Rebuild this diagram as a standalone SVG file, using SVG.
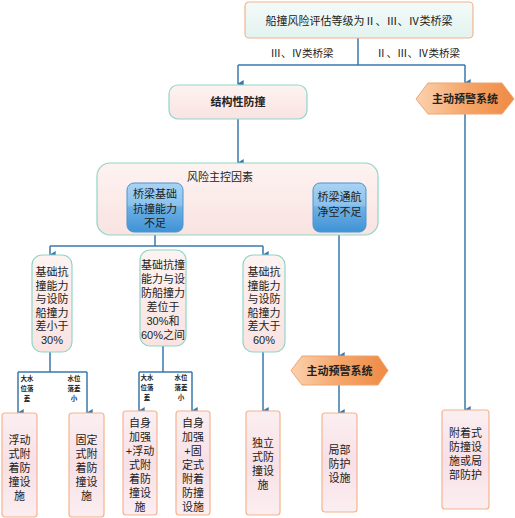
<svg xmlns="http://www.w3.org/2000/svg" width="515" height="518" viewBox="0 0 515 518">
<defs>
<linearGradient id="gPink" x1="0" y1="0" x2="0" y2="1"><stop offset="0" stop-color="#fdf3f1"/><stop offset="1" stop-color="#f9e3e1"/></linearGradient>
<linearGradient id="gBot" x1="0" y1="0" x2="0" y2="1"><stop offset="0" stop-color="#fbeff2"/><stop offset="0.5" stop-color="#f7e0e6"/><stop offset="1" stop-color="#fbeef1"/></linearGradient>
<linearGradient id="gTop" x1="0" y1="0" x2="0" y2="1"><stop offset="0" stop-color="#f3fbf9"/><stop offset="1" stop-color="#e3f3ef"/></linearGradient>
<linearGradient id="gBlue" x1="0" y1="0" x2="0" y2="1"><stop offset="0" stop-color="#a9d3f2"/><stop offset="0.45" stop-color="#8cc2ec"/><stop offset="0.5" stop-color="#6eb0e4"/><stop offset="1" stop-color="#3f93d6"/></linearGradient>
<linearGradient id="gOr" x1="0" y1="0" x2="1" y2="0"><stop offset="0" stop-color="#fbd2b0"/><stop offset="0.5" stop-color="#f5a66a"/><stop offset="1" stop-color="#ef8a45"/></linearGradient>
<marker id="arr" markerUnits="userSpaceOnUse" markerWidth="8" markerHeight="8" refX="3.5" refY="6" orient="auto-start-reverse" viewBox="0 0 7 7">
<path d="M0 1 L7 1 L3.5 7 Z" fill="#3a78ad"/>
</marker>
</defs>
<style>
.t{font-family:"Liberation Sans","Noto Sans CJK SC",sans-serif;fill:#222;text-anchor:middle;}
.f11{font-size:11px;}
.f10{font-size:10.5px;}
.b{font-weight:bold;}
.s{font-size:6.5px;font-weight:bold;fill:#222;font-family:"Liberation Sans","Noto Sans CJK SC",sans-serif;text-anchor:middle;}
.ln{fill:none;stroke:#3a78ad;stroke-width:1.5;}
.a{marker-end:url(#arr);}
.pk{fill:url(#gPink);stroke:#8fd6c8;stroke-width:1.2;}
.bt{fill:url(#gBot);stroke:#f4b48e;stroke-width:1.2;}
.bl{fill:url(#gBlue);stroke:#4a94d0;stroke-width:1;}
.hx{fill:url(#gOr);stroke:#f0a470;stroke-width:1;}
</style>

<g id="connectors">
<path class="ln" d="M358 38 V65 M238 65 H465"/>
<path class="ln a" d="M238 65 V84"/>
<path class="ln a" d="M465 65 V83"/>
<path class="ln a" d="M238 119 V163"/>
<path class="ln" d="M155 232 V246 M50 246 H263"/>
<path class="ln a" d="M50 246 V255"/>
<path class="ln a" d="M263 246 V255"/>
<path class="ln a" d="M339 232 V356"/>
<path class="ln a" d="M339 385 V413"/>
<path class="ln a" d="M465 114 V410"/>
<path class="ln" d="M50 352 V372 M18 372 H87"/>
<path class="ln a" d="M18 372 V413"/>
<path class="ln a" d="M87 372 V413"/>
<path class="ln" d="M163 346 V372 M139 372 H192"/>
<path class="ln a" d="M139 372 V411"/>
<path class="ln a" d="M192 372 V411"/>
<path class="ln a" d="M263 352 V411"/>
<text class="t f10" x="302" y="57">Ⅲ、Ⅳ类桥梁</text>
<text class="t f10" x="418" y="57">Ⅱ、Ⅲ、Ⅳ类桥梁</text>
<text class="s" x="27" y="381">大水<tspan x="27" dy="10">位落</tspan><tspan x="27" dy="10">差</tspan></text>
<text class="s" x="74" y="381">水位<tspan x="74" dy="10">落差</tspan><tspan x="74" dy="10">小</tspan></text>
<text class="s" x="147" y="380">大水<tspan x="147" dy="10">位落</tspan><tspan x="147" dy="10">差</tspan></text>
<text class="s" x="181" y="380">水位<tspan x="181" dy="10">落差</tspan><tspan x="181" dy="10">小</tspan></text>
</g>

<g id="top">
<rect x="245" y="2" width="228" height="36" rx="4" fill="url(#gTop)" stroke="#f4b48e" stroke-width="1.2"/>
<text class="t f11" x="359" y="25">船撞风险评估等级为Ⅱ、Ⅲ、Ⅳ类桥梁</text>
</g>

<g id="structural">
<rect x="169" y="85" width="138" height="34" rx="9" class="pk" stroke="#a5d3e6"/>
<text class="t f11 b" x="238" y="106">结构性防撞</text>
</g>

<g id="warn1">
<polygon class="hx" points="416,99 428,83 502,83 514,99 502,114 428,114"/>
<text class="t f11 b" x="465" y="103">主动预警系统</text>
</g>

<g id="risk">
<rect x="97" y="163" width="281" height="72" rx="13" class="pk" stroke="#a5d3e6"/>
<text class="t f11" x="220" y="181">风险主控因素</text>
</g>

<g id="found">
<rect x="127" y="183" width="56" height="49" rx="7" class="bl"/>
<text class="t f11" x="155" y="198">桥梁基础<tspan x="155" dy="14.5">抗撞能力</tspan><tspan x="155" dy="14">不足</tspan></text>
</g>

<g id="clearance">
<rect x="313" y="183" width="53" height="49" rx="7" class="bl"/>
<text class="t f11" x="339.5" y="201">桥梁通航<tspan x="339.5" dy="15">净空不足</tspan></text>
</g>

<g id="lt30">
<rect x="32" y="255" width="40" height="97" rx="10" class="pk"/>
<text class="t f11" x="52" y="276">基础抗<tspan x="52" dy="13.6">撞能力</tspan><tspan x="52" dy="13.6">与设防</tspan><tspan x="52" dy="13.6">船撞力</tspan><tspan x="52" dy="13.6">差小于</tspan><tspan x="52" dy="13.6">30%</tspan></text>
</g>

<g id="mid">
<rect x="140" y="250" width="46" height="96" rx="10" class="pk"/>
<text class="t f11" x="163" y="269">基础抗撞<tspan x="163" dy="14">能力与设</tspan><tspan x="163" dy="14">防船撞力</tspan><tspan x="163" dy="14">差位于</tspan><tspan x="163" dy="14">30%和</tspan><tspan x="163" dy="14">60%之间</tspan></text>
</g>

<g id="gt60">
<rect x="243" y="255" width="42" height="97" rx="10" class="pk"/>
<text class="t f11" x="264" y="276">基础抗<tspan x="264" dy="13.6">撞能力</tspan><tspan x="264" dy="13.6">与设防</tspan><tspan x="264" dy="13.6">船撞力</tspan><tspan x="264" dy="13.6">差大于</tspan><tspan x="264" dy="13.6">60%</tspan></text>
</g>

<g id="warn2">
<polygon class="hx" points="291,370.5 302,356 378,356 388,370.5 378,385 302,385"/>
<text class="t f11 b" x="339.5" y="374.5">主动预警系统</text>
</g>

<g id="b1">
<rect x="2" y="413" width="35" height="104" rx="3" class="bt"/>
<text class="t f11" x="19.5" y="444">浮动<tspan x="19.5" dy="14">式附</tspan><tspan x="19.5" dy="14">着防</tspan><tspan x="19.5" dy="14">撞设</tspan><tspan x="19.5" dy="14">施</tspan></text>
</g>

<g id="b2">
<rect x="69" y="413" width="35" height="104" rx="3" class="bt"/>
<text class="t f11" x="86.5" y="444">固定<tspan x="86.5" dy="14">式附</tspan><tspan x="86.5" dy="14">着防</tspan><tspan x="86.5" dy="14">撞设</tspan><tspan x="86.5" dy="14">施</tspan></text>
</g>

<g id="b3">
<rect x="123" y="411" width="34" height="104" rx="3" class="bt"/>
<text class="t f11" x="140" y="427">自身<tspan x="140" dy="14">加强</tspan><tspan x="140" dy="14">+浮动</tspan><tspan x="140" dy="14">式附</tspan><tspan x="140" dy="14">着防</tspan><tspan x="140" dy="14">撞设</tspan><tspan x="140" dy="14">施</tspan></text>
</g>

<g id="b4">
<rect x="176" y="411" width="34" height="104" rx="3" class="bt"/>
<text class="t f11" x="193" y="427">自身<tspan x="193" dy="14">加强</tspan><tspan x="193" dy="14">+固</tspan><tspan x="193" dy="14">定式</tspan><tspan x="193" dy="14">附着</tspan><tspan x="193" dy="14">防撞</tspan><tspan x="193" dy="14">设施</tspan></text>
</g>

<g id="b5">
<rect x="246" y="411" width="34" height="104" rx="3" class="bt"/>
<text class="t f11" x="263" y="447">独立<tspan x="263" dy="14">式防</tspan><tspan x="263" dy="14">撞设</tspan><tspan x="263" dy="14">施</tspan></text>
</g>

<g id="b6">
<rect x="322" y="413" width="35" height="99" rx="3" class="bt"/>
<text class="t f11" x="339.5" y="454">局部<tspan x="339.5" dy="14">防护</tspan><tspan x="339.5" dy="14">设施</tspan></text>
</g>

<g id="b7">
<rect x="442" y="410" width="47" height="99" rx="3" class="bt"/>
<text class="t f11" x="465.5" y="437">附着式<tspan x="465.5" dy="14">防撞设</tspan><tspan x="465.5" dy="14">施或局</tspan><tspan x="465.5" dy="14">部防护</tspan></text>
</g>
</svg>
